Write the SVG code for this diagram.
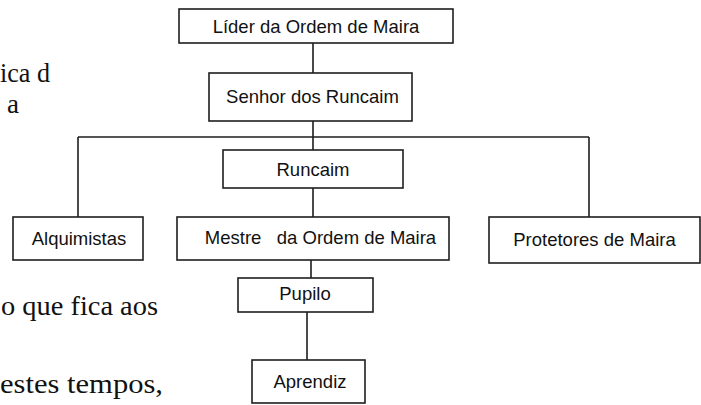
<svg xmlns="http://www.w3.org/2000/svg" width="701" height="405" viewBox="0 0 701 405">
<style>
.box{fill:#fff;stroke:#1e1e1e;stroke-width:1.6}
.lbl{font-family:"Liberation Sans",Arial,sans-serif;font-size:18.5px;fill:#111;text-anchor:middle;white-space:pre}
.bg{font-family:"Liberation Serif","Times New Roman",serif;font-size:27px;fill:#111}
.ln{stroke:#1e1e1e;stroke-width:1.6;fill:none}
</style>
<rect width="701" height="405" fill="#fff"/>
<g id="background-text">
<text class="bg" x="0" y="82" textLength="50" lengthAdjust="spacingAndGlyphs">ica d</text>
<text class="bg" x="7" y="113">a</text>
<text class="bg" x="1" y="315" textLength="157" lengthAdjust="spacingAndGlyphs">o que fica aos</text>
<text class="bg" x="0" y="393" textLength="163" lengthAdjust="spacingAndGlyphs">estes tempos,</text>
</g>
<g id="connectors">
<path class="ln" d="M313 43V73M313 121V150M78 137H589M78 137V217M589 137V217M313 188V217M311 260V278M307 312V360"/>
</g>
<g id="lider"><rect class="box" x="179" y="9" width="274" height="34"/><text class="lbl" x="316" y="33">Líder da Ordem de Maira</text></g>
<g id="senhor"><rect class="box" x="209" y="73" width="203" height="48"/><text class="lbl" x="312.5" y="103">Senhor dos Runcaim</text></g>
<g id="runcaim"><rect class="box" x="223" y="150" width="180" height="38"/><text class="lbl" x="313" y="176">Runcaim</text></g>
<g id="alquimistas"><rect class="box" x="13" y="217" width="130" height="43"/><text class="lbl" x="79" y="245">Alquimistas</text></g>
<g id="mestre"><rect class="box" x="177" y="217" width="272" height="43"/><text class="lbl" x="320.5" y="244">Mestre   da Ordem de Maira</text></g>
<g id="protetores"><rect class="box" x="489" y="217" width="211" height="46"/><text class="lbl" x="594.5" y="246">Protetores de Maira</text></g>
<g id="pupilo"><rect class="box" x="238" y="278" width="135" height="34"/><text class="lbl" x="305" y="300">Pupilo</text></g>
<g id="aprendiz"><rect class="box" x="252" y="360" width="113" height="43"/><text class="lbl" x="310" y="388">Aprendiz</text></g>
</svg>
